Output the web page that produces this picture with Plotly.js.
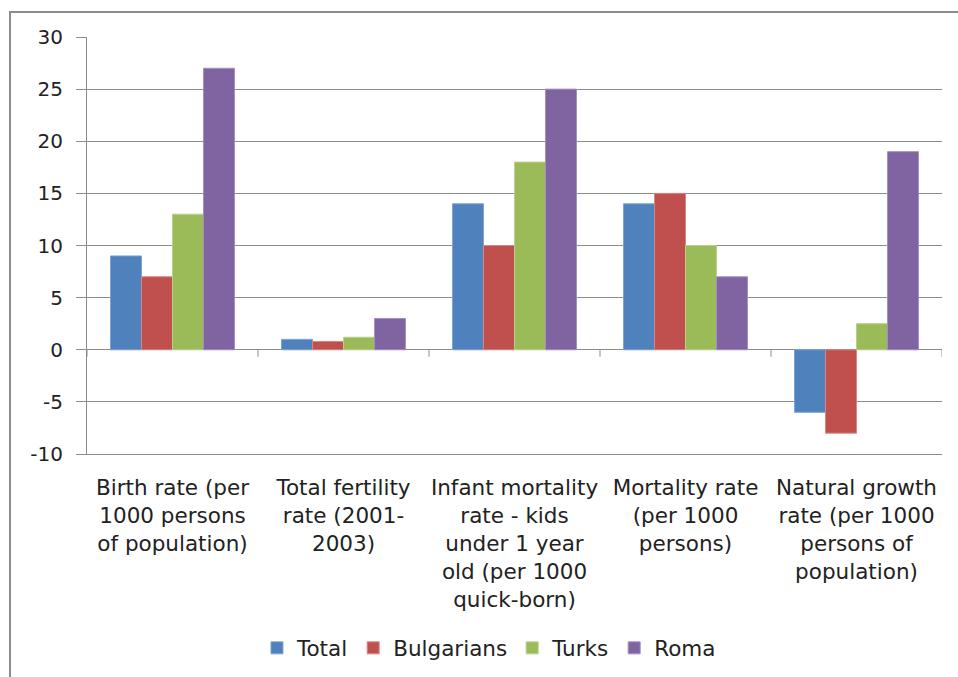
<!DOCTYPE html>
<html>
<head>
<meta charset="utf-8">
<script src="https://cdn.plot.ly/plotly-3.0.1.min.js"></script>
<style>
  html, body { margin: 0; padding: 0; background: #fff; overflow: hidden; }
  #frame { position: absolute; left: 9px; top: 11px; width: 980px; height: 700px;
           border: 2px solid #8c8c8c; box-sizing: border-box; }
  #chart { position: absolute; left: 0; top: 0; width: 958px; height: 677px; }
</style>
</head>
<body>
<div id="frame"></div>
<div id="chart"></div>
<script>
// Demographic indicators by ethnic group
const categories = [
  "Birth rate (per<br>1000 persons<br>of population)",
  "Total fertility<br>rate (2001-<br>2003)",
  "Infant mortality<br>rate - kids<br>under 1 year<br>old (per 1000<br>quick-born)",
  "Mortality rate<br>(per 1000<br>persons)",
  "Natural growth<br>rate (per 1000<br>persons of<br>population)"
];
const seriesNames = ["Total", "Bulgarians", "Turks", "Roma"];
const total      = [9, 1.0, 14, 14, -6];
const bulgarians = [7, 0.8, 10, 15, -8];
const turks      = [13, 1.2, 18, 10, 2.5];
const roma       = [27, 3.0, 25, 7, 19];
const yTicks = [-10, -5, 0, 5, 10, 15, 20, 25, 30];

const fills = ["#4F81BD", "#C0504D", "#9BBB59", "#8064A2"];
const edges = ["#7fa3d3", "#d98583", "#b9d18a", "#a48fc0"];
const values = [total, bulgarians, turks, roma];

const idx = categories.map((_, i) => i);
const traces = values.map((v, k) => ({
  type: "bar",
  name: seriesNames[k],
  x: idx,
  y: v,
  marker: { color: fills[k], line: { color: edges[k], width: 1 } },
  hoverinfo: "y+name"
}));

// small downward ticks on the zero axis, between the category groups
const gridGray = "#8c8c8c";
const shapes = [];
for (let b = -0.5; b <= categories.length - 0.5; b += 1) {
  shapes.push({
    type: "line", xref: "x", yref: "y",
    ysizemode: "pixel", yanchor: 0,
    x0: b, x1: b, y0: 0, y1: -7,
    line: { color: gridGray, width: 1 }
  });
}

const family = "DejaVu Sans, Arial, sans-serif";
const font = { family: family, size: 20, color: "#222" };
const catFont = { family: family, size: 21.5, color: "#222" };
const legFont = { family: family, size: 21.5, color: "#222" };

const layout = {
  width: 958, height: 677,
  margin: { l: 87, r: 16, t: 37, b: 223, autoexpand: false },
  paper_bgcolor: "rgba(0,0,0,0)",
  plot_bgcolor: "rgba(0,0,0,0)",
  font: font,
  barmode: "group",
  bargap: 0.275,
  bargroupgap: 0,
  showlegend: true,
  legend: {
    orientation: "h", xref: "container", yref: "container",
    x: 0.5104, xanchor: "center", y: 0.043, yanchor: "middle",
    font: legFont, itemwidth: 30, traceorder: "normal"
  },
  xaxis: {
    range: [-0.5, categories.length - 0.5],
    tickmode: "array", tickvals: idx, ticktext: categories,
    showgrid: false, zeroline: false,
    showline: true, linecolor: gridGray, linewidth: 1,
    ticks: "", ticklabelstandoff: 14,
    tickfont: catFont, fixedrange: true
  },
  yaxis: {
    range: [-10, 30],
    tickmode: "array", tickvals: yTicks, ticktext: yTicks.map(String),
    showgrid: true, gridcolor: gridGray, gridwidth: 1,
    zeroline: true, zerolinecolor: gridGray, zerolinewidth: 1,
    showline: true, linecolor: gridGray, linewidth: 1,
    ticks: "outside", ticklen: 10, tickcolor: gridGray, tickwidth: 1,
    ticklabelstandoff: 9,
    tickfont: font, fixedrange: true
  },
  shapes: shapes
};

Plotly.newPlot("chart", traces, layout, { displayModeBar: false, staticPlot: true });
</script>
</body>
</html>
